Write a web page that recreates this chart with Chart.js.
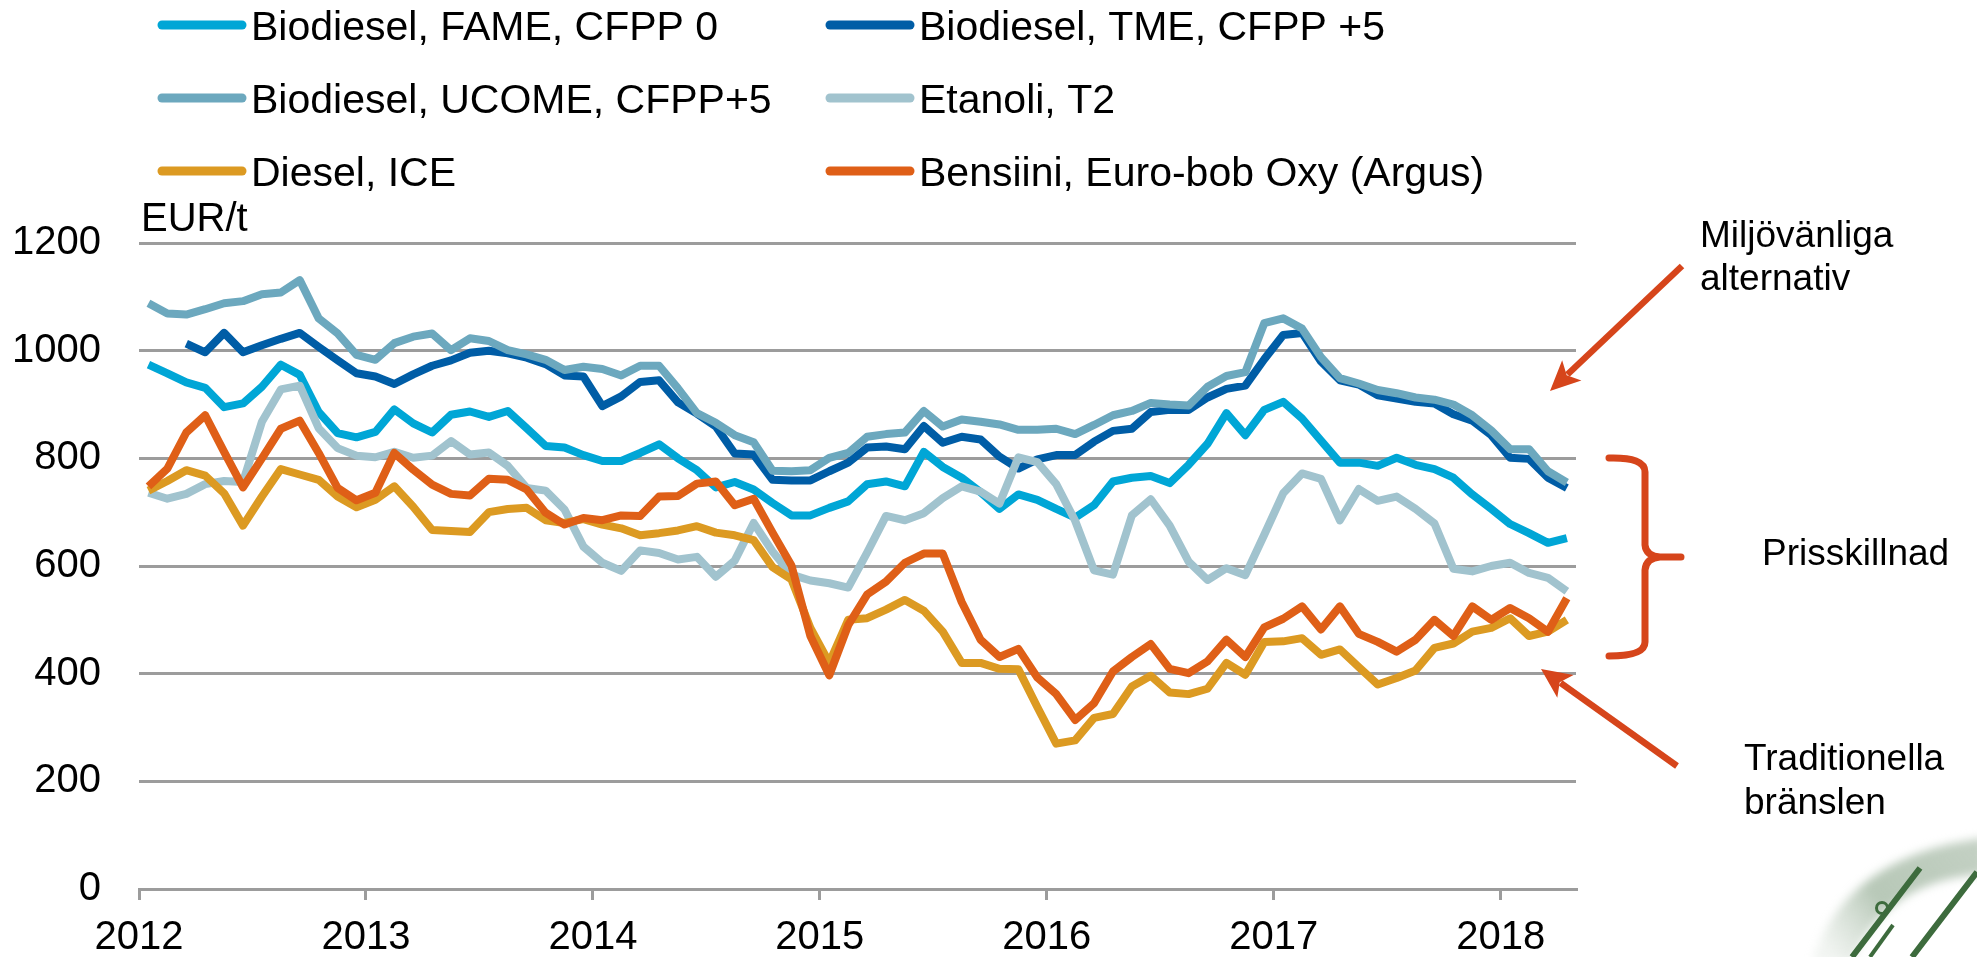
<!DOCTYPE html>
<html>
<head>
<meta charset="utf-8">
<script src="https://cdn.jsdelivr.net/npm/chart.js@4.4.1/dist/chart.umd.min.js"></script>
<style>
  html, body { margin: 0; padding: 0; background: #ffffff; overflow: hidden; }
  canvas { display: block; }
</style>
</head>
<body>
<canvas id="chart" width="1977" height="957" style="width:1977px;height:957px"></canvas>
<script>
// Monthly price series, EUR/t, January 2012 - April 2018
const months = [];
for (let y = 2012; y <= 2018; y++) {
  for (let m = 1; m <= 12; m++) {
    if (y === 2018 && m > 4) break;
    months.push(y + '-' + String(m).padStart(2, '0'));
  }
}

const yearTicks = [2012, 2013, 2014, 2015, 2016, 2017, 2018];
const valueTicks = [0, 200, 400, 600, 800, 1000, 1200];

const fame = [
  974, 958, 941, 931, 895, 902, 933, 974, 955, 886, 847, 839,
  849, 891, 865, 848, 881, 887, 877, 888, 856, 823, 820, 806,
  795, 795, 810, 826, 800, 778, 746, 756, 742, 717, 694, 694,
  708, 720, 752, 757, 748, 812, 784, 764, 737, 706, 733, 723,
  706, 690, 713, 757, 764, 767, 754, 788, 827, 884, 843, 890,
  905, 874, 833, 792, 792, 786, 801, 788, 780, 764, 733, 706,
  678, 661, 643, 652
];

const tme = [
  null, null, 1013, 997, 1033, 997, 1010, 1022, 1033, 1007, 982, 958,
  952, 938, 956, 972, 982, 996, 1000, 995, 987, 975, 954, 952,
  897, 915, 942, 945, 904, 883, 859, 809, 807, 760, 759, 759,
  776, 792, 820, 822, 817, 860, 829, 840, 835, 803, 781, 798,
  806, 806, 831, 851, 855, 886, 890, 890, 913, 929, 935, 984,
  1029, 1033, 980, 945, 937, 917, 911, 905, 902, 882, 870, 843,
  801, 799, 764, 745
];

const ucome = [
  1088, 1069, 1067, 1077, 1088, 1092, 1105, 1108, 1131, 1060, 1032, 992,
  983, 1014, 1026, 1032, 1001, 1023, 1018, 1001, 993, 983, 964, 970,
  966, 954, 972, 972, 930, 884, 866, 843, 830, 777, 776, 778,
  801, 810, 840, 845, 848, 888, 859, 872, 868, 863, 853, 853,
  855, 845, 862, 880, 888, 903, 900, 898, 933, 953, 960, 1051,
  1060, 1041, 988, 949, 939, 927, 921, 913, 909, 900, 880, 852,
  817, 817, 776, 755
];

const etanoli = [
  736, 725, 734, 752, 758, 756, 868, 928, 935, 856, 819, 805,
  802, 812, 801, 805, 832, 807, 811, 786, 745, 740, 705, 636,
  606, 591, 629, 624, 612, 617, 580, 610, 680, 627, 584, 573,
  568, 560, 625, 693, 685, 698, 726, 748, 738, 716, 802, 793,
  752, 684, 592, 584, 694, 724, 675, 608, 574, 596, 583, 658,
  735, 772, 762, 685, 743, 721, 729, 706, 679, 595, 590, 600,
  606, 587, 578, 553
];

const diesel = [
  740, 758, 778, 768, 735, 675, 729, 780, 770, 760, 729, 709,
  723, 748, 710, 667, 665, 663, 700, 706, 708, 685, 680, 687,
  677, 670, 657, 661, 666, 674, 662, 657, 648, 598, 575, 485,
  420, 500, 503, 519, 537, 517, 478, 420, 420, 409, 408, 338,
  270, 276, 318, 325, 376, 396, 365, 362, 372, 420, 398, 459,
  460, 466, 435, 445, 412, 380, 392, 406, 448, 456, 478, 485,
  503, 470, 478, 500
];

const bensiini = [
  748, 781, 848, 880, 812, 746, 800, 855, 870, 810, 745, 722,
  736, 810, 779, 751, 734, 731, 762, 760, 742, 699, 677, 689,
  685, 694, 693, 729, 730, 753, 757, 713, 725, 662, 601, 470,
  397, 490, 547, 571, 606, 623, 623, 533, 463, 431, 446, 393,
  362, 314, 345, 404, 431, 455, 409, 401, 423, 463, 431, 486,
  502, 525, 482, 525, 474, 459, 441, 463, 500, 470, 525, 500,
  522, 503, 478, 540
];

const seriesLabels = [
  'Biodiesel, FAME, CFPP 0',
  'Biodiesel, TME, CFPP +5',
  'Biodiesel, UCOME, CFPP+5',
  'Etanoli, T2',
  'Diesel, ICE',
  'Bensiini, Euro-bob Oxy (Argus)'
];
const seriesValues = [fame, tme, ucome, etanoli, diesel, bensiini];
const seriesColors = ['#00A6D6', '#005DA6', '#6CA8BE', '#A1C3CE', '#DC9A22', '#DF5F17'];

const FONT = "'Liberation Sans', Arial, sans-serif";
const GRID = '#9C9C9C';
const ACCENT = '#D6451B';

// month index -> position on a continuous year axis (mid-month)
function toPoints(values) {
  return values.map((v, i) => {
    const [y, m] = months[i].split('-').map(Number);
    return { x: y + (m - 0.5) / 12, y: v };
  });
}

const datasets = seriesLabels.map((label, i) => ({
  label,
  data: toPoints(seriesValues[i]),
  borderColor: seriesColors[i],
  backgroundColor: seriesColors[i],
  borderWidth: 8,
  pointRadius: 0,
  tension: 0,
  fill: false,
  spanGaps: false,
  borderJoinStyle: 'round',
  order: seriesLabels.length - i
}));

function drawArrow(ctx, x1, y1, x2, y2) {
  const ang = Math.atan2(y2 - y1, x2 - x1);
  const headLen = 30, headHalf = 14;
  const bx = x2 - Math.cos(ang) * headLen;
  const by = y2 - Math.sin(ang) * headLen;
  ctx.strokeStyle = ACCENT;
  ctx.fillStyle = ACCENT;
  ctx.lineWidth = 6.5;
  ctx.lineCap = 'butt';
  ctx.beginPath();
  ctx.moveTo(x1, y1);
  ctx.lineTo(bx + Math.cos(ang) * 6, by + Math.sin(ang) * 6);
  ctx.stroke();
  ctx.beginPath();
  ctx.moveTo(x2, y2);
  ctx.lineTo(bx - Math.sin(ang) * headHalf, by + Math.cos(ang) * headHalf);
  ctx.lineTo(bx + Math.cos(ang) * 7, by + Math.sin(ang) * 7);
  ctx.lineTo(bx + Math.sin(ang) * headHalf, by - Math.cos(ang) * headHalf);
  ctx.closePath();
  ctx.fill();
}

function drawEmblem(ctx) {
  // soft swoosh band
  ctx.save();
  ctx.filter = 'blur(5px)';
  const g = ctx.createLinearGradient(1830, 957, 1977, 845);
  g.addColorStop(0, 'rgba(190,205,190,0.2)');
  g.addColorStop(0.4, 'rgba(160,182,160,0.75)');
  g.addColorStop(1, 'rgba(185,200,185,0.85)');
  ctx.fillStyle = g;
  ctx.beginPath();
  ctx.moveTo(1812, 962);
  ctx.quadraticCurveTo(1845, 855, 1985, 838);
  ctx.lineTo(1985, 874);
  ctx.quadraticCurveTo(1885, 880, 1852, 962);
  ctx.closePath();
  ctx.fill();
  ctx.restore();

  // dark strokes
  ctx.save();
  ctx.strokeStyle = '#3D6B3D';
  ctx.lineCap = 'butt';
  ctx.lineWidth = 6;
  ctx.beginPath();
  ctx.moveTo(1852, 957); ctx.lineTo(1920, 868);
  ctx.moveTo(1912, 957); ctx.lineTo(1977, 872);
  ctx.stroke();
  ctx.lineWidth = 4;
  ctx.beginPath();
  ctx.moveTo(1870, 957); ctx.lineTo(1893, 925);
  ctx.stroke();
  ctx.lineWidth = 3;
  ctx.beginPath();
  ctx.arc(1882, 908, 5.5, 0, Math.PI * 2);
  ctx.stroke();
  ctx.restore();
}

const overlay = {
  id: 'overlay',
  afterDraw(chart) {
    const ctx = chart.ctx;
    ctx.save();

    // legend: two columns, three rows
    const colX = [158, 826];
    const rowY = [25, 98, 171];
    chart.data.datasets.forEach((ds, i) => {
      const x0 = colX[i % 2];
      const cy = rowY[Math.floor(i / 2)];
      ctx.strokeStyle = ds.borderColor;
      ctx.lineWidth = 9;
      ctx.lineCap = 'round';
      ctx.beginPath();
      ctx.moveTo(x0 + 4, cy);
      ctx.lineTo(x0 + 84, cy);
      ctx.stroke();
      ctx.fillStyle = '#000000';
      ctx.font = '41px ' + FONT;
      ctx.textAlign = 'left';
      ctx.textBaseline = 'alphabetic';
      ctx.fillText(ds.label, x0 + 93, cy + 15);
    });

    // unit label
    ctx.font = '40px ' + FONT;
    ctx.fillStyle = '#000000';
    ctx.fillText('EUR/t', 141, 231);

    // annotations
    ctx.font = '37px ' + FONT;
    ctx.fillText('Miljövänliga', 1700, 247);
    ctx.fillText('alternativ', 1700, 290);
    ctx.fillText('Prisskillnad', 1762, 565);
    ctx.fillText('Traditionella', 1744, 770);
    ctx.fillText('bränslen', 1744, 814);

    drawArrow(ctx, 1682, 266, 1550, 391);
    drawArrow(ctx, 1677, 766, 1541, 669);

    // curly brace
    ctx.strokeStyle = ACCENT;
    ctx.lineWidth = 7;
    ctx.lineCap = 'round';
    ctx.lineJoin = 'round';
    ctx.beginPath();
    ctx.moveTo(1609, 458);
    ctx.quadraticCurveTo(1645, 457, 1645, 472);
    ctx.lineTo(1645, 545);
    ctx.quadraticCurveTo(1646, 556, 1660, 557);
    ctx.lineTo(1681, 557);
    ctx.moveTo(1660, 557);
    ctx.quadraticCurveTo(1646, 558, 1645, 570);
    ctx.lineTo(1645, 642);
    ctx.quadraticCurveTo(1645, 656, 1609, 656);
    ctx.stroke();

    drawEmblem(ctx);

    ctx.restore();
  }
};

new Chart(document.getElementById('chart').getContext('2d'), {
  type: 'line',
  data: { datasets },
  options: {
    responsive: false,
    animation: false,
    devicePixelRatio: 1,
    layout: { padding: { top: 243, right: 401, bottom: 0, left: 0 } },
    plugins: { legend: { display: false }, tooltip: { enabled: false } },
    scales: {
      x: {
        type: 'linear',
        min: 2012,
        max: 2018.332,
        afterBuildTicks: (s) => { s.ticks = yearTicks.map(v => ({ value: v })); },
        afterFit: (s) => { s.height = 68; },
        ticks: {
          autoSkip: false,
          maxRotation: 0,
          includeBounds: false,
          padding: 14,
          color: '#000000',
          font: { family: FONT, size: 40 },
          callback: (v) => String(v)
        },
        grid: { drawOnChartArea: false, drawTicks: true, tickLength: 11, color: GRID, lineWidth: 3 },
        border: { display: true, color: GRID, width: 3 }
      },
      y: {
        min: 0,
        max: 1200,
        afterBuildTicks: (s) => { s.ticks = valueTicks.map(v => ({ value: v })); },
        afterFit: (s) => { s.width = 139; },
        ticks: {
          padding: 38,
          color: '#000000',
          font: { family: FONT, size: 40 },
          callback: (v) => String(v)
        },
        grid: { drawTicks: false, color: GRID, lineWidth: 3 },
        border: { display: false }
      }
    }
  },
  plugins: [overlay]
});
</script>
</body>
</html>
